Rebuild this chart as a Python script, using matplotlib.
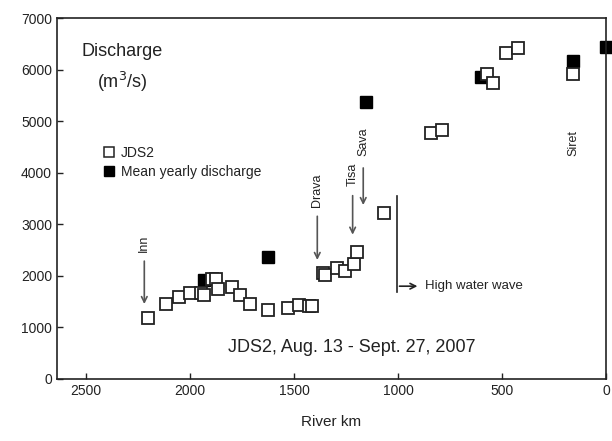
import matplotlib
matplotlib.use("Agg")
import matplotlib.pyplot as plt
from matplotlib.lines import Line2D

plt.rcParams['font.family'] = ['Liberation Sans', 'DejaVu Sans']

# JDS2 measured discharge (open squares)
jds_km = [2200, 2115, 2055, 2000, 1945, 1932, 1895, 1875, 1865, 1800, 1760, 1712,
          1623, 1527, 1475, 1430, 1415, 1360, 1350, 1295, 1255, 1210, 1196,
          1066, 843, 790, 574, 545, 481, 425, 160]
jds_q = [1180, 1450, 1600, 1670, 1660, 1620, 1930, 1935, 1750, 1780, 1620, 1460,
         1340, 1380, 1430, 1410, 1420, 2060, 2010, 2160, 2090, 2240, 2455,
         3210, 4775, 4825, 5925, 5740, 6325, 6420, 5910]

# mean yearly discharge (black squares)
mean_km = [1933, 1623, 1155, 602, 160, 0]
mean_q = [1920, 2370, 5375, 5860, 6170, 6440]

# tributaries: name, km, arrow top, arrow tip, label centre
tribs = ["Inn", "Drava", "Tisa", "Sava"]
trib_km = [2220, 1388, 1218, 1167]
trib_top = [2340, 3210, 3610, 4147]
trib_tip = [1400, 2255, 2745, 3320]
trib_label = [2636, 3663, 3973, 4599]

dark = '#222222'
grey = '#555555'

fig = plt.figure(figsize=(6.12, 4.41), dpi=100)
ax = fig.add_axes([0.0931, 0.1406, 0.8969, 0.8184])

ax.plot(jds_km, jds_q, linestyle='none', marker='s', markersize=8,
        markerfacecolor='white', markeredgecolor=dark, markeredgewidth=1.3, zorder=3)
ax.plot(mean_km, mean_q, linestyle='none', marker='s', markersize=8,
        markerfacecolor='black', markeredgecolor='black', markeredgewidth=1.0,
        zorder=2, clip_on=False)

for name, km, top, tip, lab in zip(tribs, trib_km, trib_top, trib_tip, trib_label):
    ax.annotate('', xy=(km, tip), xytext=(km, top),
                arrowprops=dict(arrowstyle='->', color=grey, lw=1.2))
    ax.text(km, lab, name, rotation=90, ha='center', va='center',
            fontsize=9, color=dark)

ax.text(154, 4574, "Siret", rotation=90, ha='center', va='center', fontsize=9, color=dark)

# high water wave marker
ax.plot([1006, 1006], [1692, 3547], color=dark, lw=1.2)
ax.annotate('', xy=(893, 1800), xytext=(1006, 1800),
            arrowprops=dict(arrowstyle='->', color=dark, lw=1.2))
ax.text(870, 1800, "High water wave", ha='left', va='center', fontsize=9.5, color=dark)

ax.text(2325, 6343, "Discharge", ha='center', va='center', fontsize=13, color=dark)
ax.text(2327, 5762, "(m$^3$/s)", ha='center', va='center', fontsize=13, color=dark)
ax.text(1224, 607, "JDS2, Aug. 13 - Sept. 27, 2007", ha='center', va='center',
        fontsize=13, color=dark)

handles = [
    Line2D([], [], linestyle='none', marker='s', markersize=6.5,
           markerfacecolor='white', markeredgecolor=dark, markeredgewidth=1.1),
    Line2D([], [], linestyle='none', marker='s', markersize=6.5,
           markerfacecolor='black', markeredgecolor='black'),
]
ax.legend(handles, ["JDS2", "Mean yearly discharge"], loc='upper left',
          bbox_to_anchor=(0.084, 0.645), frameon=False, fontsize=10,
          handlelength=0.8, handletextpad=0.5, borderpad=0, borderaxespad=0,
          labelspacing=0.35, labelcolor=dark)

ax.set_xlim(2640, 0)
ax.set_ylim(0, 7000)
ax.set_xticks([2500, 2000, 1500, 1000, 500, 0])
ax.set_yticks(range(0, 7001, 1000))
ax.tick_params(direction='in', length=4, width=1, labelsize=10, labelcolor=dark, color=dark)
ax.set_xlabel("River km", fontsize=11, color=dark, labelpad=12)
for s in ax.spines.values():
    s.set_color(dark)
    s.set_linewidth(1.2)

fig.savefig("out.png", dpi=100)
